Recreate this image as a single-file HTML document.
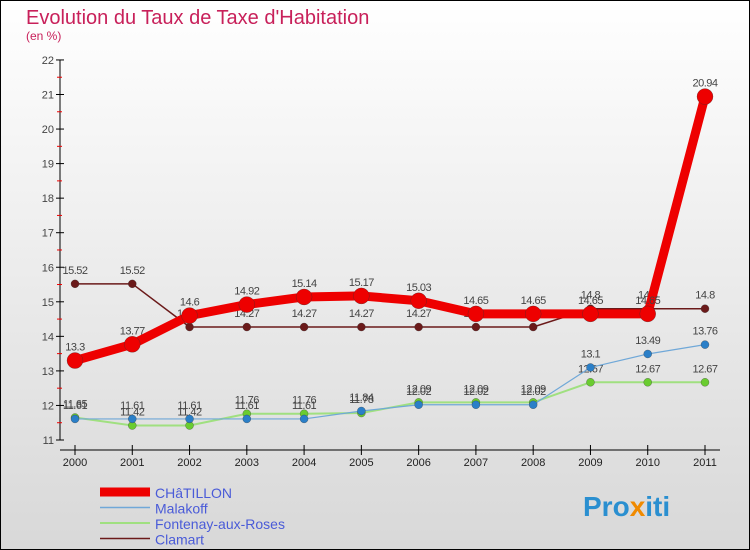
<!DOCTYPE html>
<html><head><meta charset="utf-8"><style>
body{margin:0}
#c{width:750px;height:550px;position:relative;overflow:hidden;background:linear-gradient(#ffffff,#d8d8d8);font-family:"Liberation Sans",sans-serif}
</style></head><body>
<div id="c">
<svg id="s" width="750" height="550" xmlns="http://www.w3.org/2000/svg" style="position:absolute;left:0;top:0">
<rect x="0.5" y="0.5" width="749" height="549" fill="none" stroke="#000"/>
<text x="26" y="24" font-size="20" fill="#c8205a">Evolution du Taux de Taxe d'Habitation</text>
<text x="26" y="40" font-size="12" fill="#c8205a">(en %)</text>
<g id="axes"></g><g id="series"></g><g id="legend"></g>
<text x="583" y="516" font-size="28" font-weight="bold" fill="#2a8fd0">Pro<tspan fill="#f08a00">x</tspan>iti</text>
</svg>
</div>
<script>
const years=[2000,2001,2002,2003,2004,2005,2006,2007,2008,2009,2010,2011];
const yTicks=[11,12,13,14,15,16,17,18,19,20,21,22];
const chatillon=[13.3,13.77,14.6,14.92,15.14,15.17,15.03,14.65,14.65,14.65,14.65,20.94];
const malakoff=[11.61,11.61,11.61,11.61,11.61,11.84,12.02,12.02,12.02,13.1,13.49,13.76];
const fontenay=[11.65,11.42,11.42,11.76,11.76,11.78,12.09,12.09,12.09,12.67,12.67,12.67];
const clamart=[15.52,15.52,14.27,14.27,14.27,14.27,14.27,14.27,14.27,14.8,14.8,14.8];
const seriesNames=["CHâTILLON","Malakoff","Fontenay-aux-Roses","Clamart"];
const NS="http://www.w3.org/2000/svg";
const X=i=>75+i*(630/(years.length-1));
const Y=v=>440-(v-11)*34.55;
function mk(t,a,p){const e=document.createElementNS(NS,t);for(const k in a)e.setAttribute(k,a[k]);p.appendChild(e);return e;}
const ax=document.getElementById('axes');
const yl=mk('line',{x1:60,y1:Y(22),x2:60,y2:Y(11),stroke:'#000'},ax);


const xl=mk('line',{x1:60,y1:450,x2:720,y2:450,stroke:'#000'},ax);


yTicks.forEach((v,i)=>{
 mk('line',{x1:56,y1:Y(v),x2:64,y2:Y(v),stroke:'#000'},ax);
 if(i<yTicks.length-1)mk('line',{x1:57,y1:Y(v+0.5),x2:62,y2:Y(v+0.5),stroke:'#e00'},ax);
 const t=mk('text',{x:54,y:Y(v)+4,'font-size':11,fill:'#444','text-anchor':'end'},ax);t.textContent=v;
 
 
});
years.forEach((y,i)=>{
 mk('line',{x1:X(i),y1:445,x2:X(i),y2:455,stroke:'#000'},ax);
 const t=mk('text',{x:X(i),y:466,'font-size':11,fill:'#222','text-anchor':'middle'},ax);t.textContent=y;
 
 
});
const sg=document.getElementById('series');
const defs=[[clamart,'#6b1a1a','#6b1a1a',1.5,4,'clamart'],[fontenay,'#a0e080','#6acc30',2,4,'fontenay'],[malakoff,'#70a8d8','#2a7fc8',1.2,4,'malakoff'],[chatillon,'#ee0000','#ee0000',9,8,'chatillon']];
defs.forEach(([d,lc,pc,w,r,n])=>{
 const g=mk('g',{},sg);
 
 
 const p=mk('polyline',{points:d.map((v,i)=>X(i)+','+Y(v)).join(' '),fill:'none',stroke:lc,'stroke-width':w,'stroke-linejoin':'round'},g);
 
 
 d.forEach((v,i)=>{
  const c=mk('circle',{cx:X(i),cy:Y(v),r:r,fill:pc,stroke:'#333','stroke-width':0.3},g);
  
  
  const t=mk('text',{x:X(i),y:Y(v)-10,'font-size':11,fill:'#444','text-anchor':'middle','letter-spacing':'-0.5'},g);
  t.textContent=String(v);
  
  
 });
});
const lg=document.getElementById('legend');
const lcols=['#ee0000','#70a8d8','#a0e080','#6b1a1a'],lw=[9,1.5,2,1.5];
seriesNames.forEach((n,i)=>{
 const y=492+i*15.5;
 const g=mk('g',{},lg);
 
 
 mk('line',{x1:100,y1:y,x2:150,y2:y,stroke:lcols[i],'stroke-width':lw[i]},g);
 const t=mk('text',{x:155,y:y+6,'font-size':14,fill:'#4a5bd8'},g);t.textContent=n;
});
</script>
</body></html>
